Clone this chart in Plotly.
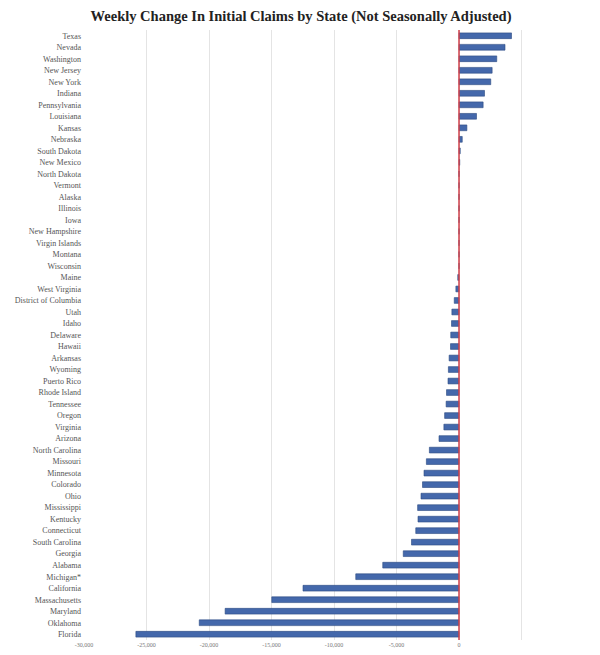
import plotly.graph_objects as go

states = [
    "Texas", "Nevada", "Washington", "New Jersey", "New York", "Indiana",
    "Pennsylvania", "Louisiana", "Kansas", "Nebraska", "South Dakota",
    "New Mexico", "North Dakota", "Vermont", "Alaska", "Illinois", "Iowa",
    "New Hampshire", "Virgin Islands", "Montana", "Wisconsin", "Maine",
    "West Virginia", "District of Columbia", "Utah", "Idaho", "Delaware",
    "Hawaii", "Arkansas", "Wyoming", "Puerto Rico", "Rhode Island",
    "Tennessee", "Oregon", "Virginia", "Arizona", "North Carolina",
    "Missouri", "Minnesota", "Colorado", "Ohio", "Mississippi", "Kentucky",
    "Connecticut", "South Carolina", "Georgia", "Alabama", "Michigan*",
    "California", "Massachusetts", "Maryland", "Oklahoma", "Florida",
]

weekly_change = [
    4200, 3680, 3020, 2650, 2540, 2040,
    1930, 1400, 630, 260, 100,
    60, 0, 0, 0, 0, 0,
    0, 0, 0, 0, -100,
    -250, -380, -570, -600, -660,
    -680, -790, -850, -880, -1000,
    -1030, -1150, -1210, -1600, -2370,
    -2610, -2800, -2920, -3040, -3310, -3280,
    -3460, -3800, -4460, -6100, -8260,
    -12480, -14980, -18710, -20780, -25850,
]

tick_values = [-30000, -25000, -20000, -15000, -10000, -5000, 0, 5000, 10000]
tick_labels = ["-30,000", "-25,000", "-20,000", "-15,000", "-10,000", "-5,000", "0", "", ""]

SERIF = "Liberation Serif, DejaVu Serif, serif"

fig = go.Figure()
fig.add_trace(go.Bar(
    y=states,
    x=weekly_change,
    orientation="h",
    marker=dict(color="#4468ab", line=dict(color="#2c4a82", width=0.6)),
    width=0.5,
    hoverinfo="x+y",
))

fig.add_shape(
    type="line", xref="x", yref="paper",
    x0=0, x1=0, y0=0, y1=1,
    line=dict(color="#d0404a", width=1.5),
    layer="above",
)

fig.update_layout(
    width=592, height=647,
    margin=dict(l=73, r=16, t=22, b=7),
    paper_bgcolor="white",
    plot_bgcolor="white",
    showlegend=False,
    title=dict(
        text="<b>Weekly Change In Initial Claims by State (Not Seasonally Adjusted)</b>",
        x=0.495, xanchor="center", y=0.996, yanchor="top",
        font=dict(family=SERIF, size=14.5, color="#222222"),
    ),
    xaxis=dict(
        range=[-30000, 10000],
        tickmode="array",
        tickvals=tick_values,
        ticktext=tick_labels,
        showgrid=True,
        gridcolor="#e4e4e4",
        gridwidth=1,
        zeroline=False,
        showline=False,
        ticks="",
        tickfont=dict(family=SERIF, size=6, color="#777777"),
        fixedrange=True,
    ),
    yaxis=dict(
        autorange="reversed",
        showgrid=False,
        zeroline=False,
        showline=False,
        ticks="",
        ticksuffix=" ",
        tickfont=dict(family=SERIF, size=8, color="#555555"),
        fixedrange=True,
    ),
)

fig.write_html("out.html")
